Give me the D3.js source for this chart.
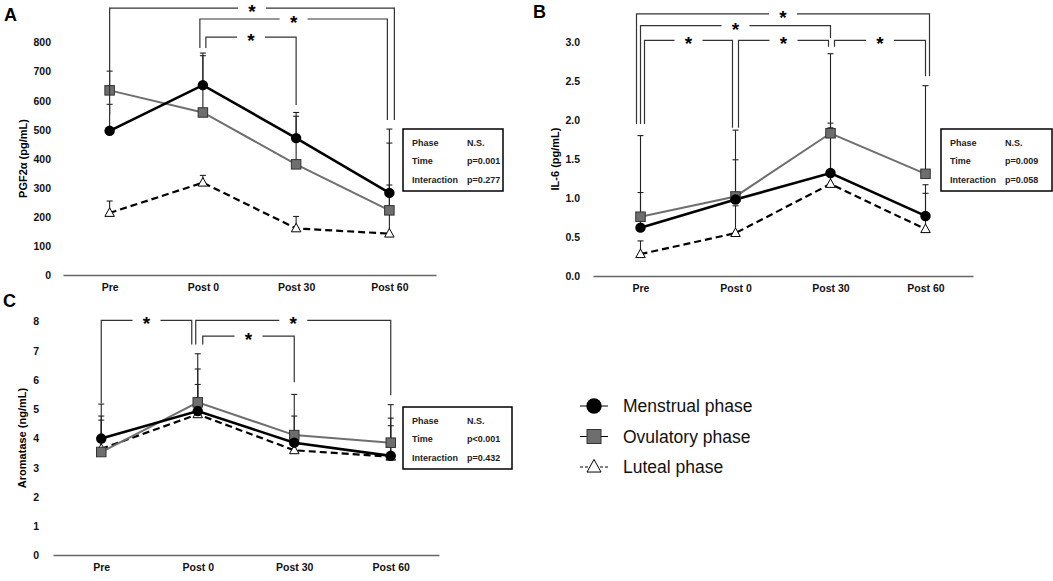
<!DOCTYPE html>
<meta charset="utf-8">
<script src="https://d3js.org/d3.v7.min.js"></script>
<style>
    body { margin: 0; background: #fff; }
    svg { font-family: "Liberation Sans", Arial, sans-serif; }
    .tick text { font-weight: bold; fill: #111; }
</style>
<svg id="chart" width="1053" height="581"></svg>
<script>
    // categories and series
    const categories = ["Pre", "Post 0", "Post 30", "Post 60"];
    const phases = ["Menstrual phase", "Ovulatory phase", "Luteal phase"];

    // A: PGF2a (pg/mL), mean and SD
    const pgfMenstrual = [495, 652, 470, 282];
    const pgfMenstrualSD = [91, 110, 88, 219];
    const pgfOvulatory = [634, 558, 380, 222];
    const pgfOvulatorySD = [66, 195, 165, 231];
    const pgfLuteal = [213, 317, 160, 142];
    const pgfLutealSD = [41, 25, 41, 167];

    // B: IL-6 (pg/mL)
    const il6Menstrual = [0.62, 0.98, 1.32, 0.77];
    const il6MenstrualSD = [0.45, 0.51, 0.64, 0.40];
    const il6Ovulatory = [0.76, 1.02, 1.83, 1.31];
    const il6OvulatorySD = [1.04, 0.85, 1.02, 1.13];
    const il6Luteal = [0.28, 0.55, 1.18, 0.60];
    const il6LutealSD = [0.17, 0.35, 0.72, 0.46];

    // C: Aromatase (ng/mL)
    const aroMenstrual = [3.98, 4.92, 3.84, 3.39];
    const aroMenstrualSD = [1.18, 1.44, 0.91, 1.29];
    const aroOvulatory = [3.52, 5.22, 4.10, 3.84];
    const aroOvulatorySD = [1.09, 1.66, 1.39, 1.30];
    const aroLuteal = [3.63, 4.81, 3.58, 3.36];
    const aroLutealSD = [1.12, 1.02, 0.62, 1.06];

    // two-way ANOVA results
    const statLabels = ["Phase", "Time", "Interaction"];
    const pgfStats = ["N.S.", "p=0.001", "p=0.277"];
    const il6Stats = ["N.S.", "p=0.009", "p=0.058"];
    const aroStats = ["N.S.", "p<0.001", "p=0.432"];

    // significance brackets: [from, to, level, left leg end, right leg end] in data units
    const pgfBrackets = [[0, 3, 916, 549, 532], [1, 3, 879, 779, 532], [1, 2, 817, 779, 584]];
    const il6Brackets = [[0, 3, 3.36, 1.95, 2.56], [0, 2, 3.21, 1.95, 3.05], [0, 1, 3.02, 1.95, 1.90],
                         [1, 2, 3.02, 1.90, 2.94], [2, 3, 3.02, 2.94, 2.56]];
    const aroBrackets = [[0, 1, 8.02, 5.19, 7.2], [1, 3, 8.02, 7.2, 5.46], [1, 2, 7.48, 7.2, 5.91]];

    const svg = d3.select("#chart");

    const panels = [
        {
            letter: "A", letterPos: [4, 21], title: "PGF2\u03b1 (pg/mL)",
            x0: 63, x1: 436, yTop: 42, yBot: 275, max: 800, step: 100, fmt: d3.format("d"),
            labelX: 51, titleX: 23, box: [403, 129, 100, 62],
            series: [[pgfMenstrual, pgfMenstrualSD], [pgfOvulatory, pgfOvulatorySD], [pgfLuteal, pgfLutealSD]],
            stats: pgfStats, brackets: pgfBrackets,
            nudge: [[0, 5], [-3, -2], [3, 0]]
        },
        {
            letter: "B", letterPos: [533, 18], title: "IL-6 (pg/mL)",
            x0: 593, x1: 973, yTop: 42, yBot: 276, max: 3, step: 0.5, fmt: d3.format(".1f"),
            labelX: 580, titleX: 555, box: [941, 129, 111, 62],
            series: [[il6Menstrual, il6MenstrualSD], [il6Ovulatory, il6OvulatorySD], [il6Luteal, il6LutealSD]],
            stats: il6Stats, brackets: il6Brackets,
            nudge: [[-4, 4], [0, 0], [4, -3], [3, -2], [4, 0]]
        },
        {
            letter: "C", letterPos: [3, 307], title: "Aromatase (ng/mL)",
            x0: 53, x1: 439, yTop: 321, yBot: 555, max: 8, step: 1, fmt: d3.format("d"),
            labelX: 39, titleX: 22, box: [403, 407, 109, 62],
            series: [[aroMenstrual, aroMenstrualSD], [aroOvulatory, aroOvulatorySD], [aroLuteal, aroLutealSD]],
            stats: aroStats, brackets: aroBrackets,
            nudge: [[0, -6], [-2, 0], [5, 0]]
        }
    ];

    // line look per phase
    const styles = [
        { stroke: "#000", width: 2.6, dash: null, shape: "circle" },
        { stroke: "#6f6f6f", width: 2, dash: null, shape: "square" },
        { stroke: "#000", width: 2.2, dash: "7,4", shape: "triangle" }
    ];

    function drawMarker(g, shape, cx, cy, s) {
        if (shape === "circle") {
            g.append("circle").attr("cx", cx).attr("cy", cy).attr("r", s * 0.55)
                .attr("fill", "#000");
        } else if (shape === "square") {
            g.append("rect").attr("x", cx - s / 2).attr("y", cy - s / 2)
                .attr("width", s).attr("height", s)
                .attr("fill", "#6e6e6e").attr("stroke", "#333").attr("stroke-width", 1);
        } else {
            const h = s * 0.9;
            g.append("path")
                .attr("d", d3.line()([[cx, cy - h * 0.6], [cx + s / 2, cy + h * 0.4], [cx - s / 2, cy + h * 0.4]]) + "Z")
                .attr("fill", "#fff").attr("stroke", "#000").attr("stroke-width", 1);
        }
    }

    panels.forEach(p => {
        const g = svg.append("g");

        const x = d3.scalePoint().domain(categories).range([p.x0, p.x1]).padding(0.5);
        const y = d3.scaleLinear().domain([0, p.max]).range([p.yBot, p.yTop]);

        // panel letter
        g.append("text").attr("x", p.letterPos[0]).attr("y", p.letterPos[1])
            .style("font-size", "18px").style("font-weight", "bold").text(p.letter);

        // y tick labels, no axis line
        const ya = g.append("g").attr("transform", `translate(${p.labelX},0)`)
            .call(d3.axisLeft(y).tickValues(d3.range(0, p.max + p.step / 2, p.step))
                .tickFormat(p.fmt).tickSize(0).tickPadding(0));
        ya.select(".domain").remove();
        ya.selectAll("text").style("font-size", "10.5px").attr("dy", "0.36em");

        // x axis
        const xa = g.append("g").attr("transform", `translate(0,${p.yBot})`)
            .call(d3.axisBottom(x).tickSize(0).tickPadding(8.5));
        xa.select(".domain").attr("stroke", "#666").attr("stroke-width", 1.3);
        xa.selectAll("text").style("font-size", "10.5px");

        // y title
        g.append("text")
            .attr("transform", `translate(${p.titleX},${(p.yTop + p.yBot) / 2}) rotate(-90)`)
            .attr("text-anchor", "middle").attr("dy", "0.36em")
            .style("font-size", "11px").style("font-weight", "bold").text(p.title);

        // error bars (upper SD only)
        p.series.forEach(([mean, sd]) => {
            mean.forEach((m, i) => {
                const cx = x(categories[i]);
                g.append("path")
                    .attr("d", d3.line()([[cx, y(m)], [cx, y(m + sd[i])]]))
                    .attr("stroke", "#222").attr("stroke-width", 1.1);
                g.append("path")
                    .attr("d", d3.line()([[cx - 3, y(m + sd[i])], [cx + 3, y(m + sd[i])]]))
                    .attr("stroke", "#222").attr("stroke-width", 1.1);
            });
        });

        // lines, luteal first so menstrual sits on top
        [2, 1, 0].forEach(k => {
            const mean = p.series[k][0];
            g.append("path")
                .attr("d", d3.line().x((d, i) => x(categories[i])).y(d => y(d))(mean))
                .attr("fill", "none")
                .attr("stroke", styles[k].stroke)
                .attr("stroke-width", styles[k].width)
                .attr("stroke-dasharray", styles[k].dash);
        });
        [2, 1, 0].forEach(k => {
            p.series[k][0].forEach((m, i) => drawMarker(g, styles[k].shape, x(categories[i]), y(m), 9.5));
        });

        // significance brackets
        p.brackets.forEach((b, j) => {
            const xl = x(categories[b[0]]) + p.nudge[j][0];
            const xr = x(categories[b[1]]) + p.nudge[j][1];
            const yl = y(b[2]);
            const mid = (xl + xr) / 2;
            const gap = 14;
            g.append("path")
                .attr("d", d3.line()([[xl, y(b[3])], [xl, yl], [mid - gap, yl]]))
                .attr("fill", "none").attr("stroke", "#333").attr("stroke-width", 1.2);
            g.append("path")
                .attr("d", d3.line()([[mid + gap, yl], [xr, yl], [xr, y(b[4])]]))
                .attr("fill", "none").attr("stroke", "#333").attr("stroke-width", 1.2);
            g.append("text").attr("x", mid).attr("y", yl + 10)
                .attr("text-anchor", "middle")
                .style("font-size", "19px").style("font-weight", "bold").text("*");
        });

        // stats box
        const [bx, by, bw, bh] = p.box;
        g.append("rect").attr("x", bx).attr("y", by).attr("width", bw).attr("height", bh)
            .attr("fill", "#fff").attr("stroke", "#000").attr("stroke-width", 1.5);
        statLabels.forEach((s, i) => {
            const ty = by + 16.5 + i * 18.5;
            g.append("text").attr("x", bx + 9).attr("y", ty)
                .style("font-size", "9px").style("font-weight", "bold").attr("fill", "#222").text(s);
            g.append("text").attr("x", bx + 64).attr("y", ty)
                .style("font-size", "9px").style("font-weight", "bold").attr("fill", "#222").text(p.stats[i]);
        });
    });

    // legend
    const legend = svg.append("g");
    const ly = d3.scalePoint().domain(phases).range([406, 467]);
    phases.forEach((name, k) => {
        const cy = ly(name);
        legend.append("path")
            .attr("d", d3.line()([[580, cy], [608, cy]]))
            .attr("stroke", "#000").attr("stroke-width", 1)
            .attr("stroke-dasharray", k === 2 ? "3,2" : null);
        drawMarker(legend, styles[k].shape, 594, cy, 14);
        legend.append("text").attr("x", 623).attr("y", cy).attr("dy", "0.36em")
            .style("font-size", "17.5px").attr("fill", "#111").text(name);
    });
</script>
